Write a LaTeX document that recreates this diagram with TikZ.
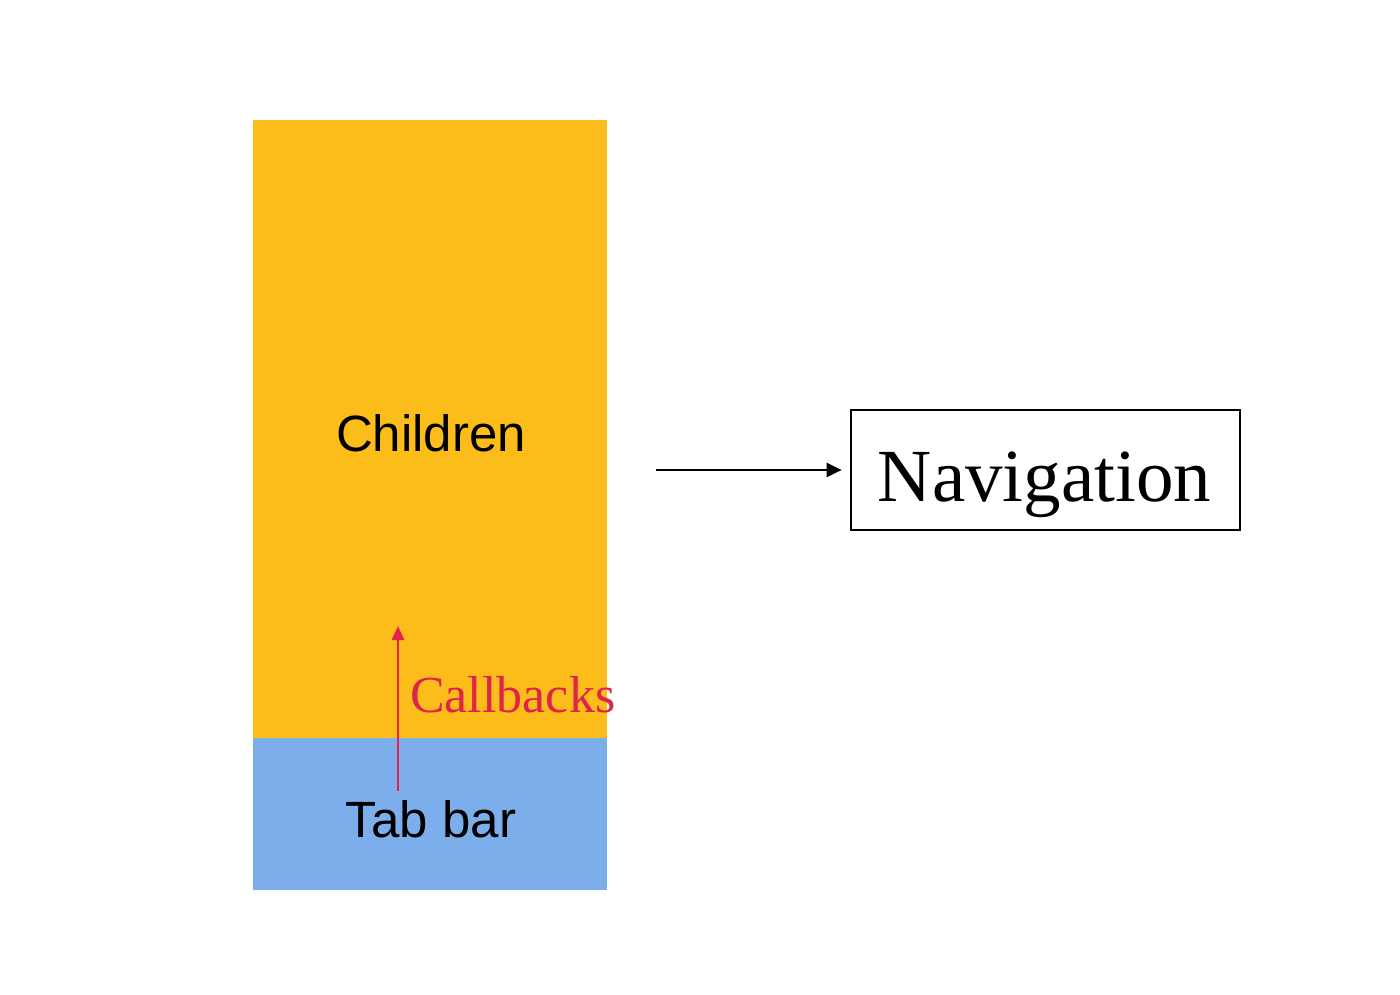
\documentclass[tikz,border=0pt]{standalone}
\usepackage{fontspec}
\setmainfont{Liberation Serif}
\setsansfont{Liberation Sans}
\usetikzlibrary{arrows.meta}
\definecolor{childyellow}{HTML}{FCBC19}
\definecolor{tabblue}{HTML}{7BAEEB}
\definecolor{cbred}{HTML}{E0234A}
\tikzset{
  panel/.style={draw=none, inner sep=0pt, outer sep=0pt},
  sanslabel/.style={font=\sffamily\fontsize{51}{60}\selectfont, anchor=base, inner sep=0pt},
  seriflabel/.style={font=\fontsize{52}{60}\selectfont, anchor=base west, inner sep=0pt, text=cbred},
  navbox/.style={draw=black, line width=2.7pt, minimum width=389pt, minimum height=120pt, inner sep=0pt},
  navlabel/.style={font=\fontsize{75}{80}\selectfont, anchor=base, inner sep=0pt},
  blackarrow/.style={line width=2.5pt, -{Triangle[length=15pt,width=14pt]}},
  redarrow/.style={draw=cbred, line width=2.7pt, -{Triangle[length=14pt,width=12pt]}}
}
\begin{document}
\begin{tikzpicture}[x=1pt,y=-1pt]
\useasboundingbox (0,0) rectangle (1400,995);
\fill[white] (0,0) rectangle (1400,995);
\node[panel, fill=childyellow, minimum width=354pt, minimum height=618pt, anchor=north west] (children) at (253,120) {};
\node[panel, fill=tabblue, minimum width=354pt, minimum height=152pt, anchor=north west] (tabbar) at (253,738) {};
\node[sanslabel] (childtext) at (431,451) {Children};
\node[sanslabel] (tabtext) at (431,837) {Tab bar};
\coordinate (cbstart) at (398,791);
\coordinate (cbend) at (398,626);
\draw[redarrow] (cbstart) -- (cbend);
\node[seriflabel] (cbtext) at (410,712) {Callbacks};
\node[navbox] (nav) at (1045.5,470) {};
\node[navlabel] (navtext) at (1044.5,501) {Navigation};
\coordinate (navstart) at (656,470);
\draw[blackarrow, shorten >=8pt] (navstart) -- (nav.west);
\end{tikzpicture}
\end{document}
